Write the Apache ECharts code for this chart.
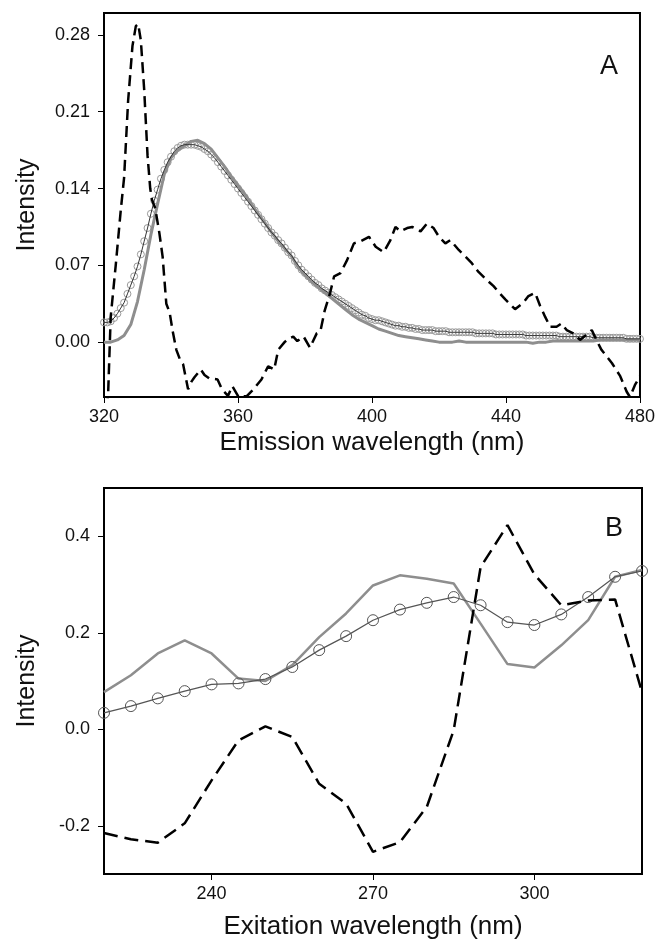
<!DOCTYPE html>
<html>
<head>
<meta charset="utf-8">
<script src="https://cdn.jsdelivr.net/npm/echarts@6/dist/echarts.min.js"></script>
<style>
  html, body { margin: 0; padding: 0; background: #fff; }
  #chart { width: 658px; height: 943px; }
</style>
</head>
<body>
<div id="chart"></div>
<script>
// ---- panel A: emission spectra ----
const emTicksX = [320, 360, 400, 440, 480]
const emTicksY = [0, 0.07, 0.14, 0.21, 0.28]

// dashed difference spectrum, [nm, intensity]
const emDashed = [
  [320.5, -0.06], [321.2, -0.05], [322, 0.023], [323.5, 0.07], [325, 0.12], [326, 0.15],
  [327.2, 0.22], [328.5, 0.27], [329.5, 0.288], [330.2, 0.29], [331, 0.275], [332, 0.23],
  [333, 0.17], [333.8, 0.14], [334.3, 0.13], [335.3, 0.122], [336.5, 0.1], [337.5, 0.078],
  [338.6, 0.035], [339.6, 0.027], [340.5, 0.01], [341.6, -0.007], [342.7, -0.016], [343.6, -0.02],
  [345.1, -0.043], [346.1, -0.036], [347, -0.032], [348.9, -0.025], [350, -0.03], [351.4, -0.033],
  [353.9, -0.034], [355.2, -0.043], [357, -0.049], [358.3, -0.04], [360.2, -0.05], [362.7, -0.049],
  [364.6, -0.043], [367, -0.034], [369, -0.022], [370.8, -0.025], [372, -0.007], [373.9, 0.0],
  [375, 0.003], [376.5, 0.005], [377.7, 0.001], [379.6, 0.005], [381.5, -0.005], [383.5, 0.008],
  [384.6, 0.01], [385.9, 0.029], [387.5, 0.045], [388.7, 0.06], [390.6, 0.063], [392.6, 0.075],
  [394.6, 0.09], [396.6, 0.092], [399.1, 0.096], [401.1, 0.087], [403.5, 0.082], [405.5, 0.093],
  [407, 0.105], [408.5, 0.101], [410.5, 0.104], [412, 0.105], [414.5, 0.101], [416.4, 0.108],
  [418.4, 0.104], [420, 0.096], [421.9, 0.09], [423.4, 0.093], [425.9, 0.084], [427.9, 0.078],
  [429.8, 0.072], [431.8, 0.064], [433.8, 0.058], [436.3, 0.051], [438, 0.045], [439.8, 0.039],
  [442.7, 0.03], [445.2, 0.036], [446.7, 0.042], [448.7, 0.045], [450.2, 0.033], [451.7, 0.023],
  [453.2, 0.014], [455.1, 0.014], [456.6, 0.017], [458.1, 0.011], [460.1, 0.008], [462.1, 0.002],
  [464.1, 0.007], [465.6, 0.011], [467, 0.002], [468.5, -0.007], [471.6, -0.019], [474.1, -0.031],
  [476, -0.045], [477, -0.05], [478.5, -0.039], [480, -0.031]
]

// thick grey spectrum, every 2 nm from 320
const emGrey = [
  0.000, 0.000, 0.002, 0.006, 0.016, 0.037, 0.066, 0.098, 0.126, 0.153,
  0.168, 0.175, 0.179, 0.183, 0.184, 0.181, 0.176, 0.168, 0.160, 0.151,
  0.143, 0.135, 0.126, 0.117, 0.109, 0.100, 0.092, 0.085, 0.078, 0.068,
  0.061, 0.055, 0.050, 0.045, 0.040, 0.035, 0.030, 0.025, 0.021, 0.018,
  0.015, 0.012, 0.010, 0.008, 0.006, 0.005, 0.004, 0.003, 0.002, 0.001,
  0.000, 0.000, 0.000, 0.001, 0.000, 0.000, 0.000, 0.000, 0.000, 0.000,
  0.000, 0.000, 0.000, 0.000, -0.001, 0.000, 0.000, 0.001, 0.001, 0.001,
  0.001, 0.001, 0.001, 0.001, 0.002, 0.002, 0.002, 0.002, 0.002, 0.002,
  0.002
]

// circles + thin black line, every 1 nm from 320
const emCircles = [
  0.018, 0.018, 0.019, 0.022, 0.026, 0.031, 0.036, 0.044, 0.052, 0.060,
  0.069, 0.080, 0.092, 0.104, 0.117, 0.129, 0.139, 0.149, 0.157, 0.164,
  0.169, 0.174, 0.177, 0.179, 0.180, 0.180, 0.180, 0.180, 0.179, 0.178,
  0.176, 0.174, 0.171, 0.168, 0.164, 0.160, 0.156, 0.152, 0.148, 0.144,
  0.140, 0.136, 0.132, 0.128, 0.124, 0.120, 0.116, 0.112, 0.108, 0.104,
  0.100, 0.097, 0.093, 0.090, 0.086, 0.082, 0.079, 0.074, 0.070, 0.066,
  0.063, 0.060, 0.057, 0.054, 0.052, 0.049, 0.047, 0.045, 0.043, 0.041,
  0.039, 0.037, 0.035, 0.033, 0.031, 0.029, 0.027, 0.025, 0.024, 0.022,
  0.021, 0.020, 0.020, 0.019, 0.018, 0.017, 0.016, 0.015, 0.015, 0.014,
  0.014, 0.013, 0.013, 0.012, 0.012, 0.011, 0.011, 0.011, 0.011, 0.010,
  0.010, 0.010, 0.010, 0.009, 0.009, 0.009, 0.009, 0.009, 0.009, 0.009,
  0.009, 0.008, 0.008, 0.008, 0.008, 0.008, 0.008, 0.007, 0.007, 0.007,
  0.007, 0.007, 0.007, 0.007, 0.007, 0.007, 0.006, 0.006, 0.006, 0.006,
  0.006, 0.006, 0.006, 0.006, 0.006, 0.006, 0.005, 0.005, 0.005, 0.005,
  0.005, 0.005, 0.005, 0.005, 0.005, 0.005, 0.004, 0.004, 0.004, 0.004,
  0.004, 0.004, 0.004, 0.004, 0.004, 0.004, 0.003, 0.003, 0.003, 0.003,
  0.003
]

// ---- panel B: excitation spectra, every 5 nm from 220 ----
const exWl = [220, 225, 230, 235, 240, 245, 250, 255, 260, 265, 270, 275, 280, 285, 290, 295, 300, 305, 310, 315, 320]
const exTicksX = [240, 270, 300]
const exTicksY = [-0.2, 0, 0.2, 0.4]
const exCircles = [0.034, 0.048, 0.064, 0.079, 0.093, 0.095, 0.104, 0.129, 0.164, 0.193, 0.226,
  0.248, 0.262, 0.274, 0.257, 0.222, 0.216, 0.238, 0.274, 0.316, 0.328]
const exGrey = [0.077, 0.112, 0.157, 0.184, 0.157, 0.105, 0.100, 0.133, 0.191, 0.240, 0.298,
  0.319, 0.312, 0.302, 0.219, 0.135, 0.128, 0.174, 0.226, 0.316, 0.330]
const exDashed = [-0.215, -0.228, -0.235, -0.195, -0.106, -0.023, 0.006, -0.016, -0.113, -0.154, -0.254,
  -0.234, -0.161, -0.002, 0.336, 0.423, 0.321, 0.257, 0.267, 0.269, 0.077]

const emStep1 = emCircles.map((v, i) => [320 + i, v])
const emStep2 = emGrey.map((v, i) => [320 + 2 * i, v])
const pairs = (ys) => ys.map((v, i) => [exWl[i], v])

const FONT = "'Liberation Sans', Arial, sans-serif"
const chart = echarts.init(document.getElementById('chart'), null, { renderer: 'canvas' })

const xAxisBase = (idx, min, max, name, ticks, gap) => ({
  type: 'value', gridIndex: idx, min, max,
  name, nameLocation: 'middle', nameGap: gap,
  nameTextStyle: { fontFamily: FONT, fontSize: 26, color: '#111' },
  axisLine: { show: true, onZero: false, lineStyle: { color: '#000', width: 2 } },
  axisTick: { show: true, length: 6, lineStyle: { color: '#000', width: 1 }, customValues: ticks },
  axisLabel: { fontFamily: FONT, fontSize: 18, color: '#111', margin: 11, customValues: ticks },
  splitLine: { show: false }
})
const yAxisBase = (idx, min, max, ticks, digits) => ({
  type: 'value', gridIndex: idx, min, max,
  name: 'Intensity', nameLocation: 'middle', nameGap: 64,
  nameTextStyle: { fontFamily: FONT, fontSize: 25, color: '#111' },
  axisLine: { show: true, onZero: false, lineStyle: { color: '#000', width: 2 } },
  axisTick: { show: true, length: 6, lineStyle: { color: '#000', width: 1 }, customValues: ticks },
  axisLabel: {
    fontFamily: FONT, fontSize: 18, color: '#111', margin: 14, customValues: ticks,
    formatter: v => Number(v).toFixed(digits)
  },
  splitLine: { show: false }
})

chart.setOption({
  animation: false,
  backgroundColor: '#fff',
  grid: [
    { left: 104, top: 13, width: 538, height: 384, show: true, borderColor: '#000', borderWidth: 2 },
    { left: 104, top: 488, width: 538, height: 386, show: true, borderColor: '#000', borderWidth: 2 }
  ],
  xAxis: [
    xAxisBase(0, 320, 480, 'Emission wavelength (nm)', emTicksX, 33),
    xAxisBase(1, 220, 320, 'Exitation wavelength (nm)', exTicksX, 40)
  ],
  yAxis: [
    yAxisBase(0, -0.05, 0.30, emTicksY, 2),
    yAxisBase(1, -0.3, 0.5, exTicksY, 1)
  ],
  graphic: [
    { type: 'text', left: 600, top: 53, style: { text: 'A', font: '27px ' + FONT, fill: '#111' } },
    { type: 'text', left: 605, top: 515, style: { text: 'B', font: '27px ' + FONT, fill: '#111' } }
  ],
  series: [
    {
      type: 'line', xAxisIndex: 0, yAxisIndex: 0, data: emStep1, z: 2,
      symbol: 'circle', symbolSize: 7, showSymbol: true,
      itemStyle: { color: 'rgba(0,0,0,0)', borderColor: '#9a9a9a', borderWidth: 1 },
      lineStyle: { width: 0 }
    },
    {
      type: 'line', xAxisIndex: 0, yAxisIndex: 0, data: emStep2, z: 3, symbol: 'none',
      lineStyle: { color: '#8e8e8e', width: 3 }
    },
    {
      type: 'line', xAxisIndex: 0, yAxisIndex: 0, data: emStep1, z: 4, symbol: 'none',
      lineStyle: { color: '#333', width: 1 }
    },
    {
      type: 'line', xAxisIndex: 0, yAxisIndex: 0, data: emDashed, z: 5, symbol: 'none',
      lineStyle: { color: '#000', width: 2.5, type: [11, 6] }
    },
    {
      type: 'line', xAxisIndex: 1, yAxisIndex: 1, data: pairs(exGrey), z: 3, symbol: 'none',
      lineStyle: { color: '#8e8e8e', width: 2.5 }
    },
    {
      type: 'line', xAxisIndex: 1, yAxisIndex: 1, data: pairs(exCircles), z: 4,
      symbol: 'circle', symbolSize: 11,
      itemStyle: { color: 'rgba(0,0,0,0)', borderColor: '#555', borderWidth: 1 },
      lineStyle: { color: '#555', width: 1.2 }
    },
    {
      type: 'line', xAxisIndex: 1, yAxisIndex: 1, data: pairs(exDashed), z: 5, symbol: 'none',
      lineStyle: { color: '#000', width: 2.5, type: [14, 7] }
    }
  ]
})
</script>
</body>
</html>
